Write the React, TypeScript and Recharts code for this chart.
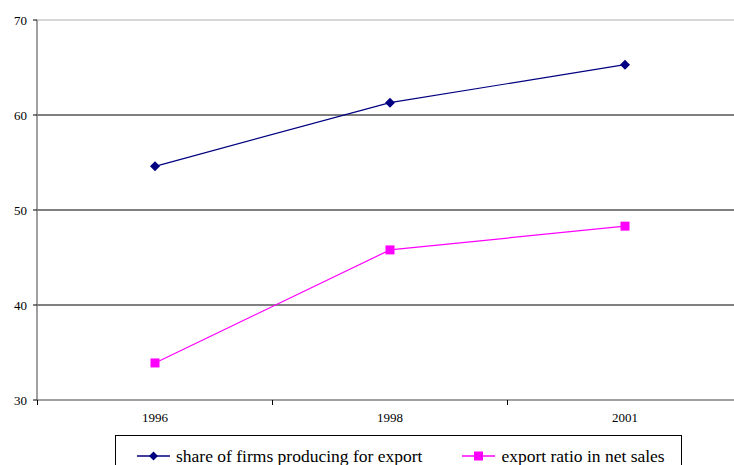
import { LineChart, Line, XAxis, YAxis, ReferenceLine, Legend } from "recharts";

const years = ["1996", "1998", "2001"];
const shareFirms = [54.6, 61.3, 65.3];
const exportRatio = [33.9, 45.8, 48.3];
const yTicks = [30, 40, 50, 60, 70];
const gridLines = [40, 50, 60];

const data = years.map((year, i) => ({
  year,
  share: shareFirms[i],
  ratio: exportRatio[i],
}));

const series = [
  { key: "share", name: "share of firms producing for export", color: "#000080", shape: "diamond" },
  { key: "ratio", name: "export ratio in net sales", color: "#FF00FF", shape: "square" },
];

const FONT = "Liberation Serif, DejaVu Serif, serif";
const CHART_W = 760;
const CHART_H = 465;
const MARGIN = { top: 20, right: 15, bottom: 0, left: 0 };
const Y_W = 37;
const PAD_L = 118;
const PAD_R = 120;
const STEP = (CHART_W - MARGIN.right - Y_W - PAD_L - PAD_R) / (years.length - 1);

const Diamond = ({ cx, cy, fill }: any) => {
  if (cx == null || cy == null) return null;
  return <polygon points={`${cx},${cy - 5} ${cx + 5},${cy} ${cx},${cy + 5} ${cx - 5},${cy}`} fill={fill} />;
};

const Square = ({ cx, cy, fill }: any) => {
  if (cx == null || cy == null) return null;
  return <rect x={cx - 4.5} y={cy - 4.5} width={9} height={9} fill={fill} />;
};

const XTick = ({ x, y, payload, index }: any) => {
  const last = index === years.length - 1;
  return (
    <g>
      <line x1={x - STEP / 2} y1={y - 8} x2={x - STEP / 2} y2={y - 3} stroke="#000" />
      {last && <line x1={x + STEP / 2} y1={y - 8} x2={x + STEP / 2} y2={y - 3} stroke="#000" />}
      <text x={x} y={y + 14} textAnchor="middle" fontSize={13} fill="#000" style={{ fontFamily: FONT }}>
        {payload.value}
      </text>
    </g>
  );
};

const LegendBox = () => (
  <div
    style={{
      border: "1px solid #000",
      height: 42,
      display: "flex",
      alignItems: "center",
      fontSize: 17.5,
      fontFamily: FONT,
      color: "#000",
      paddingLeft: 21,
      boxSizing: "border-box",
    }}
  >
    {series.map((s, i) => (
      <div key={s.key} style={{ display: "flex", alignItems: "center", marginRight: i === 0 ? 40 : 0 }}>
        <svg width={33} height={12} style={{ marginRight: 6 }}>
          <line x1={0} y1={6} x2={33} y2={6} stroke={s.color} strokeWidth={1.5} />
          {s.shape === "diamond" ? (
            <polygon points="16.5,1.5 21,6 16.5,10.5 12,6" fill={s.color} />
          ) : (
            <rect x={12} y={1.5} width={9} height={9} fill={s.color} />
          )}
        </svg>
        <span style={{ fontFamily: FONT }}>{s.name}</span>
      </div>
    ))}
  </div>
);

export default function App() {
  return (
    <div
      style={{
        position: "fixed",
        left: 0,
        top: 0,
        width: 734,
        height: 465,
        overflow: "hidden",
        background: "#fff",
        fontFamily: FONT,
      }}
    >
      <LineChart width={CHART_W} height={CHART_H} data={data} margin={MARGIN} style={{ fontFamily: FONT }}>
        {gridLines.map((v) => (
          <ReferenceLine key={v} y={v} stroke="#000" strokeWidth={1} />
        ))}
        <ReferenceLine y={70} stroke="#c8c8c8" strokeWidth={1.5} />
        <XAxis
          dataKey="year"
          height={25}
          padding={{ left: PAD_L, right: PAD_R }}
          axisLine={{ stroke: "#808080", strokeWidth: 1.5 }}
          tickLine={false}
          tick={<XTick />}
          interval={0}
        />
        <YAxis
          width={Y_W}
          domain={[30, 70]}
          ticks={yTicks}
          axisLine={{ stroke: "#808080", strokeWidth: 1.5 }}
          tickLine={{ stroke: "#000" }}
          tickSize={4}
          tickMargin={6}
          tick={{ fontSize: 13, fill: "#000", style: { fontFamily: FONT } }}
        />
        <Legend
          content={<LegendBox />}
          wrapperStyle={{ position: "absolute", left: 115, top: 435, width: 567, height: 40 }}
        />
        <Line
          dataKey="share"
          name={series[0].name}
          stroke={series[0].color}
          strokeWidth={1.2}
          dot={<Diamond fill={series[0].color} />}
          activeDot={false}
          isAnimationActive={false}
        />
        <Line
          dataKey="ratio"
          name={series[1].name}
          stroke={series[1].color}
          strokeWidth={1.2}
          dot={<Square fill={series[1].color} />}
          activeDot={false}
          isAnimationActive={false}
        />
      </LineChart>
    </div>
  );
}
